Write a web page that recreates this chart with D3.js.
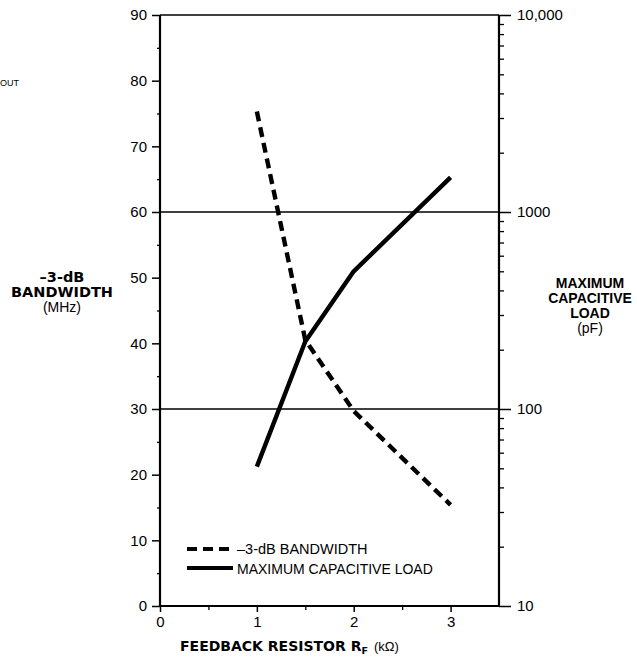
<!DOCTYPE html>
<html><head><meta charset="utf-8">
<script src="https://cdn.jsdelivr.net/npm/d3@7"></script>
<style>
body{margin:0;background:#fff;}
text{font-family:"Liberation Sans",Arial,Helvetica,sans-serif;fill:#000;}
.bd{font-family:"DejaVu Sans",sans-serif;font-weight:bold;}
</style></head>
<body><svg id="c" width="637" height="658"></svg>
<script>
// ---- data ----
const rf = [1, 1.5, 2, 3];                       // feedback resistor (kΩ)
const bandwidth = [75.3, 40.5, 29.7, 15.4];      // -3 dB bandwidth (MHz)
const capLoad = [51, 220, 500, 1500];            // max capacitive load (pF)
const leftTicks = [0,10,20,30,40,50,60,70,80,90];
const leftMinor = [5,15,25,35,45,55,65,75,85];
const rightTicks = [10,100,1000,10000];
const rightLabels = ["10","100","1000","10,000"];
const xTicks = [0,1,2,3];
const xMinor = [0.5,1.5,2.5];
const gridLeft = [30,60];

const svg = d3.select("#c");
const L=160,R=499,T=15,B=606;
const x = d3.scaleLinear().domain([0,3.5]).range([L,R]);
const yL = d3.scaleLinear().domain([0,90]).range([B,T]);
const yR = d3.scaleLog().domain([10,10000]).range([B,T]);

// left axis
const gl = svg.append("g").attr("transform",`translate(${L},0)`)
  .call(d3.axisLeft(yL).tickValues(leftTicks).tickSize(8).tickPadding(5));
gl.select(".domain").remove();
gl.selectAll("line").attr("stroke","#000").attr("stroke-width",1.5);
gl.selectAll("text").style("font-size","15px");
svg.append("g").attr("transform",`translate(${L},0)`)
  .call(d3.axisLeft(yL).tickValues(leftMinor).tickSize(3).tickFormat(""))
  .call(g=>g.select(".domain").remove())
  .selectAll("line").attr("stroke","#000").attr("stroke-width",1.3);

// right axis
const gr = svg.append("g").attr("transform",`translate(${R},0)`)
  .call(d3.axisRight(yR).tickValues(rightTicks).tickSize(12).tickPadding(6)
    .tickFormat((d,i)=>rightLabels[i]));
gr.select(".domain").remove();
gr.selectAll("line").attr("stroke","#000").attr("stroke-width",1.5);
gr.selectAll("text").style("font-size","15px");
const rMinor = [];
[10,100,1000].forEach(b=>{for(let k=2;k<=9;k++) rMinor.push(b*k);});
svg.append("g").attr("transform",`translate(${R},0)`)
  .call(d3.axisRight(yR).tickValues(rMinor).tickSize(5).tickFormat(""))
  .call(g=>g.select(".domain").remove())
  .selectAll("line").attr("stroke","#000").attr("stroke-width",1.3);

// bottom axis
const gb = svg.append("g").attr("transform",`translate(0,${B})`)
  .call(d3.axisBottom(x).tickValues(xTicks).tickSize(6).tickPadding(4).tickFormat(d3.format("d")));
gb.select(".domain").remove();
gb.selectAll("line").attr("stroke","#000").attr("stroke-width",1.5);
gb.selectAll("text").style("font-size","15px");
svg.append("g").attr("transform",`translate(0,${B})`)
  .call(d3.axisBottom(x).tickValues(xMinor).tickSize(4).tickFormat(""))
  .call(g=>g.select(".domain").remove())
  .selectAll("line").attr("stroke","#000").attr("stroke-width",1.3);

// gridlines
svg.selectAll(".grid").data(gridLeft).join("line")
  .attr("x1",L).attr("x2",R).attr("y1",d=>yL(d)).attr("y2",d=>yL(d))
  .attr("stroke","#000").attr("stroke-width",1.4);

// frame
svg.append("line").attr("x1",L).attr("x2",R).attr("y1",T).attr("y2",T).attr("stroke","#000").attr("stroke-width",1.5);
svg.append("line").attr("x1",L).attr("x2",L).attr("y1",T).attr("y2",B).attr("stroke","#000").attr("stroke-width",2.2);
svg.append("line").attr("x1",R).attr("x2",R).attr("y1",T).attr("y2",B).attr("stroke","#000").attr("stroke-width",2.2);
svg.append("line").attr("x1",L).attr("x2",R).attr("y1",B).attr("y2",B).attr("stroke","#000").attr("stroke-width",2.2);

// series
const bwLine = d3.line().x((d,i)=>x(rf[i])).y(d=>yL(d));
svg.append("path").attr("d",bwLine(bandwidth)).attr("fill","none")
  .attr("stroke","#000").attr("stroke-width",4.4).attr("stroke-dasharray","10,6");
const capLine = d3.line().x((d,i)=>x(rf[i])).y(d=>yR(d));
svg.append("path").attr("d",capLine(capLoad)).attr("fill","none")
  .attr("stroke","#000").attr("stroke-width",4.4).attr("stroke-linejoin","round");

// legend
svg.append("line").attr("x1",187).attr("x2",231).attr("y1",549).attr("y2",549)
  .attr("stroke","#000").attr("stroke-width",4).attr("stroke-dasharray","10,6");
svg.append("line").attr("x1",187).attr("x2",233).attr("y1",568).attr("y2",568)
  .attr("stroke","#000").attr("stroke-width",4);
svg.append("text").attr("x",237).attr("y",554).style("font-size","14.5px").text("–3-dB BANDWIDTH");
svg.append("text").attr("x",237).attr("y",574).style("font-size","14px").text("MAXIMUM CAPACITIVE LOAD");

// axis titles
const lt = svg.append("text").attr("text-anchor","middle");
lt.append("tspan").attr("class","bd").attr("x",62).attr("y",282).style("font-size","14.5px").text("–3-dB");
lt.append("tspan").attr("class","bd").attr("x",62).attr("y",297).style("font-size","14.5px").text("BANDWIDTH");
lt.append("tspan").attr("x",62).attr("y",312).style("font-size","14px").text("(MHz)");

const rt = svg.append("text").attr("text-anchor","middle");
rt.append("tspan").attr("x",590).attr("y",288).style("font-weight","bold").style("font-size","14px").text("MAXIMUM");
rt.append("tspan").attr("x",590).attr("y",303).style("font-weight","bold").style("font-size","14px").text("CAPACITIVE");
rt.append("tspan").attr("x",590).attr("y",318).style("font-weight","bold").style("font-size","14px").text("LOAD");
rt.append("tspan").attr("x",590).attr("y",333).style("font-size","14px").text("(pF)");

const bt = svg.append("text").attr("x",180).attr("y",651);
bt.append("tspan").attr("class","bd").style("font-size","14px").text("FEEDBACK RESISTOR R");
bt.append("tspan").attr("class","bd").style("font-size","9.5px").attr("dy",3).text("F");
bt.append("tspan").attr("dy",-3).attr("dx",6).style("font-size","13px").text("(kΩ)");

svg.append("text").attr("x",0).attr("y",86).style("font-size","9px").text("OUT");
</script></body></html>
